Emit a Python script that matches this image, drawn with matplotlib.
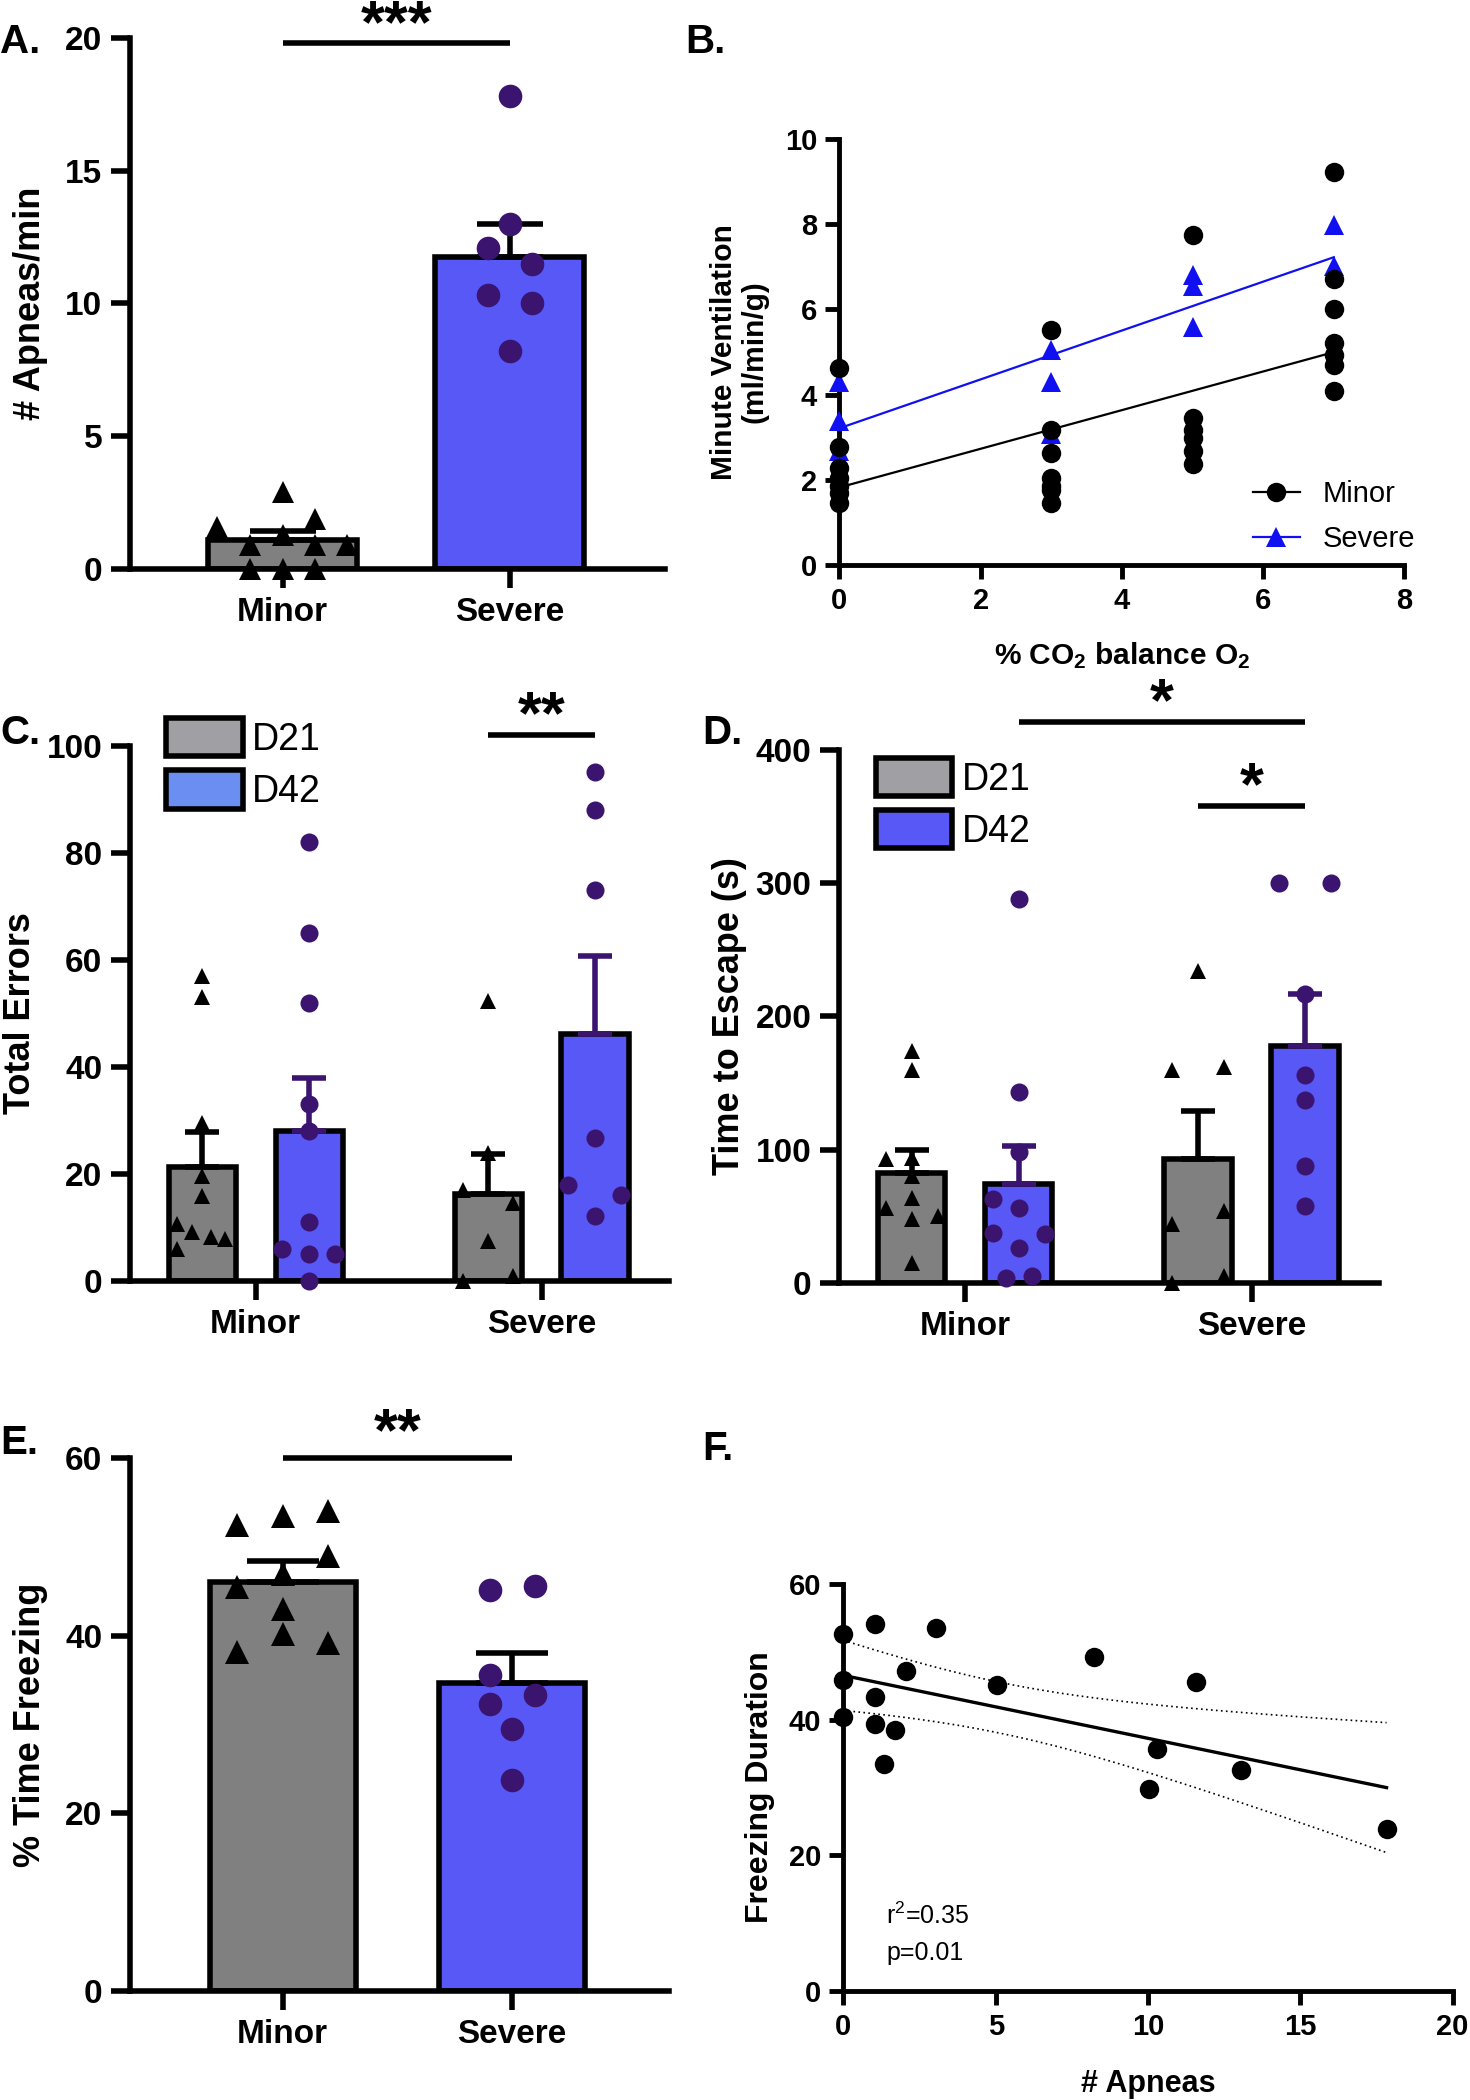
import numpy as np
import matplotlib
matplotlib.use("Agg")
import matplotlib.pyplot as plt
from matplotlib.patches import Patch
from matplotlib.lines import Line2D

plt.rcParams["font.family"] = ["Liberation Sans", "DejaVu Sans"]
plt.rcParams["mathtext.fontset"] = "custom"
plt.rcParams["mathtext.rm"] = "Liberation Sans"
plt.rcParams["mathtext.bf"] = "Liberation Sans:bold"
plt.rcParams["mathtext.default"] = "rm"

GRAY = "#808080"
BLUE = "#5858F7"
PURPLE = "#3B1470"
LEG_GRAY = "#A0A0A4"
LEG_BLUE_C = "#6B8EF2"
LINE_BLUE = "#1010F0"

groups = ["Minor", "Severe"]

# ---- A: apneas/min
a_minor = [2.9, 1.6, 1.9, 1.3, 0.9, 0.9, 0.9, 0.0, 0.0, 0.0]
a_severe = [17.8, 13.0, 12.1, 11.5, 10.3, 10.0, 8.2]
a_mean = [1.1, 11.75]
a_sem = [0.35, 1.25]

# ---- B: minute ventilation vs CO2
b_co2 = [0, 3, 5, 7]
b_minor = [
    [4.62, 2.78, 2.27, 2.04, 1.86, 1.68, 1.46],
    [5.53, 3.17, 2.63, 2.04, 1.86, 1.77, 1.46],
    [7.75, 3.44, 3.17, 2.99, 2.67, 2.37],
    [9.22, 6.72, 6.00, 5.21, 4.92, 4.69, 4.09],
]
b_severe = [
    [4.29, 3.39, 2.67],
    [5.05, 4.29, 3.07],
    [6.80, 6.55, 5.60],
    [7.98, 7.03],
]
b_minor_fit = (1.82, 0.454)    # intercept, slope
b_severe_fit = (3.21, 0.574)

# ---- C: total errors (D21 / D42)
c_d21_minor = [57, 53, 29.5, 19.7, 15.8, 10.6, 9.1, 8.3, 7.9, 5.9]
c_d42_minor = [82, 65, 52, 33, 28, 11, 6, 5, 5, 0]
c_d21_severe = [52.4, 24, 17, 14.6, 7.5, 0, 1]
c_d42_severe = [95, 88, 73, 26.8, 17.9, 16, 12.1]
c_d21_mean = [21.3, 16.3]
c_d21_sem = [6.5, 7.4]
c_d42_mean = [28.0, 46.1]
c_d42_sem = [9.9, 14.6]

# ---- D: time to escape (s)
d_d21_minor = [174, 160, 93, 94, 80, 63.5, 56, 50, 48, 15]
d_d42_minor = [288, 143, 98, 63, 56, 37.5, 37, 26, 4, 5]
d_d21_severe = [234, 160, 162, 54, 44, 5, 0]
d_d42_severe = [300, 300, 217, 156, 137, 88, 58]
d_d21_mean = [82.4, 93.0]
d_d21_sem = [17.6, 36.0]
d_d42_mean = [74.0, 177.5]
d_d42_sem = [29.0, 39.1]

# ---- E: % time freezing
e_minor = [52.5, 53.5, 54.0, 49.0, 47.0, 45.5, 43.0, 40.2, 39.2, 38.2]
e_severe = [45.1, 45.6, 35.6, 33.3, 32.3, 29.5, 23.7]
e_mean = [46.0, 34.7]
e_sem = [2.4, 3.3]

# ---- F: freezing vs apneas
f_apneas = [0, 0, 0, 1.02, 1.02, 1.02, 1.7, 1.34, 2.05, 3.04, 5.03, 8.23,
            11.56, 10.3, 10.02, 13.05, 17.83]
f_freeze = [52.6, 45.8, 40.4, 54.1, 43.3, 39.4, 38.4, 33.5, 47.1, 53.5, 45.1,
            49.2, 45.6, 35.7, 29.7, 32.5, 23.8]

# jitter of the dots inside each bar (layout only)
jit_a_minor = [0, -0.289, 0.14, 0, -0.144, 0.14, 0.284, -0.144, 0, 0.14]
jit_a_severe = [0, 0, -0.097, 0.097, -0.097, 0.097, 0]
jit_c_d21_minor = [0, 0, 0, 0, 0, -0.089, -0.037, 0.03, 0.08, -0.089]
jit_c_d42_minor = [0, 0, 0, 0, 0, 0, -0.094, 0, 0.089, 0]
jit_c_d21_severe = [0, 0, -0.089, 0.088, 0, -0.089, 0.088]
jit_c_d42_severe = [0, 0, 0, 0, -0.094, 0.091, 0]
jit_d_d21_minor = [0, 0, -0.091, 0, 0, 0, -0.091, 0.091, 0, 0]
jit_d_d42_minor = [0, 0, 0, -0.091, 0, -0.091, 0.091, 0, -0.045, 0.045]
jit_d_d21_severe = [0, -0.091, 0.091, 0.091, -0.091, 0.091, -0.091]
jit_d_d42_severe = [-0.091, 0.091, 0, 0, 0, 0, 0]
jit_e_minor = [-0.198, 0, 0.198, 0.198, 0, -0.198, 0, 0, 0.198, -0.198]
jit_e_severe = [-0.098, 0.098, -0.098, 0.098, -0.098, 0, 0]

LW = 4.0
TICK_FS = 24
LAB_FS = 26
STAR_FS = 44

fig = plt.figure(figsize=(14.7, 21), dpi=100)


def style_axes(ax, lw=LW, length=14, fs=TICK_FS):
    for s in ("top", "right"):
        ax.spines[s].set_visible(False)
    for s in ("left", "bottom"):
        ax.spines[s].set_linewidth(lw)
    ax.tick_params(width=lw, length=length, labelsize=fs, pad=6)
    for lab in ax.get_xticklabels() + ax.get_yticklabels():
        lab.set_fontweight("bold")


def bar(ax, x, mean, sem, pts, jit, fill, marker, mcol, ecol, width, ms, cap):
    ax.bar(x, mean, width, color=fill, edgecolor="black", linewidth=LW, zorder=2)
    ax.errorbar(x, mean, yerr=[[0], [sem]], fmt="none", ecolor=ecol,
                elinewidth=LW, capsize=cap, capthick=LW, zorder=3)
    ax.plot(np.array(jit) + x, pts, ls="none", marker=marker, color=mcol,
            ms=ms, mew=0, zorder=4, clip_on=False)


def sig(ax, x0, x1, y, stars, dy):
    ax.plot([x0, x1], [y, y], color="black", lw=LW, clip_on=False,
            solid_capstyle="butt")
    ax.text((x0 + x1) / 2, y + dy, stars, ha="center", va="baseline",
            fontsize=STAR_FS, fontweight="bold", clip_on=False)


def panel_label(x, y, s):
    fig.text(x, y, s, fontsize=29, fontweight="bold", ha="left", va="center")


def legend_boxes(ax, fills, anchor):
    ax.legend([Patch(facecolor=f, edgecolor="black", lw=LW) for f in fills],
              ["D21", "D42"], loc="upper left", bbox_to_anchor=anchor,
              frameon=False, fontsize=27, handlelength=2.05, handleheight=1.2,
              handletextpad=0.25, labelspacing=0.33, borderaxespad=0, borderpad=0)


# ---------------- A
ax = fig.add_axes([0.0884, 0.729, 0.364, 0.253])
bar(ax, 0, a_mean[0], a_sem[0], a_minor, jit_a_minor, GRAY, "^", "black",
    "black", 0.657, 16, 24)
bar(ax, 1, a_mean[1], a_sem[1], a_severe, jit_a_severe, BLUE, "o", PURPLE,
    "black", 0.657, 17, 24)
ax.set_xlim(-0.673, 1.684)
ax.set_ylim(0, 20)
ax.set_yticks([0, 5, 10, 15, 20])
ax.set_xticks([0, 1], groups)
ax.set_ylabel("# Apneas/min", fontsize=LAB_FS, fontweight="bold", labelpad=12)
style_axes(ax)
sig(ax, 0, 1, 19.8, "***", 0.05)
panel_label(0.0, 0.980, "A.")

# ---------------- B
ax = fig.add_axes([0.571, 0.731, 0.3844, 0.2027])
for x, ys in zip(b_co2, b_severe):
    ax.plot([x] * len(ys), ys, ls="none", marker="^", color=LINE_BLUE, ms=14,
            mew=0, clip_on=False, zorder=3)
for x, ys in zip(b_co2, b_minor):
    ax.plot([x] * len(ys), ys, ls="none", marker="o", color="black", ms=14,
            mew=0, clip_on=False, zorder=4)
xs = np.array([b_co2[0], b_co2[-1]])
ax.plot(xs, b_minor_fit[0] + b_minor_fit[1] * xs, color="black", lw=1.6, zorder=2)
ax.plot(xs, b_severe_fit[0] + b_severe_fit[1] * xs, color=LINE_BLUE, lw=1.6, zorder=2)
ax.set_xlim(0, 8)
ax.set_ylim(0, 10)
ax.set_xticks([0, 2, 4, 6, 8])
ax.set_yticks([0, 2, 4, 6, 8, 10])
ax.set_ylabel("Minute Ventilation\n(ml/min/g)", fontsize=21.5, fontweight="bold",
              labelpad=12, linespacing=1.1)
ax.set_xlabel(r"% $\mathbf{CO_2}$ balance $\mathbf{O_2}$", fontsize=21.5,
              fontweight="bold", labelpad=18)
style_axes(ax, lw=3.5, length=10, fs=21)
handles = [Line2D([], [], color="black", marker="o", ms=14, mew=0, lw=1.6),
           Line2D([], [], color=LINE_BLUE, marker="^", ms=14, mew=0, lw=1.6)]
ax.legend(handles, groups, loc="lower right", bbox_to_anchor=(1.04, 0.0),
          frameon=False, fontsize=21, handlelength=1.6, handletextpad=0.8,
          labelspacing=0.6, borderaxespad=0)
panel_label(0.466, 0.980, "B.")


def grouped(ax, d21_mean, d21_sem, d42_mean, d42_sem, pts21, pts42, jit21, jit42,
            ms_c, ms_t, cap):
    for i in range(2):
        bar(ax, i - 0.187, d21_mean[i], d21_sem[i], pts21[i], jit21[i], GRAY,
            "^", "black", "black", 0.235, ms_t, cap)
        bar(ax, i + 0.187, d42_mean[i], d42_sem[i], pts42[i], jit42[i], BLUE,
            "o", PURPLE, PURPLE, 0.235, ms_c, cap)
    ax.set_xlim(-0.44, 1.445)
    ax.set_xticks([0, 1], groups)


# ---------------- C
ax = fig.add_axes([0.0884, 0.390, 0.3666, 0.2549])
grouped(ax, c_d21_mean, c_d21_sem, c_d42_mean, c_d42_sem,
        [c_d21_minor, c_d21_severe], [c_d42_minor, c_d42_severe],
        [jit_c_d21_minor, jit_c_d21_severe], [jit_c_d42_minor, jit_c_d42_severe],
        13, 12, 12)
ax.set_ylim(0, 100)
ax.set_yticks([0, 20, 40, 60, 80, 100])
ax.set_ylabel("Total Errors", fontsize=LAB_FS, fontweight="bold", labelpad=6)
style_axes(ax)
sig(ax, 1 - 0.187, 1 + 0.187, 102, "**", 0.3)
legend_boxes(ax, [LEG_GRAY, LEG_BLUE_C], (0.067, 1.052))
panel_label(0.0, 0.651, "C.")

# ---------------- D
ax = fig.add_axes([0.571, 0.389, 0.367, 0.254])
grouped(ax, d_d21_mean, d_d21_sem, d_d42_mean, d_d42_sem,
        [d_d21_minor, d_d21_severe], [d_d42_minor, d_d42_severe],
        [jit_d_d21_minor, jit_d_d21_severe], [jit_d_d42_minor, jit_d_d42_severe],
        13, 12, 12)
ax.set_ylim(0, 400)
ax.set_yticks([0, 100, 200, 300, 400])
ax.set_ylabel("Time to Escape (s)", fontsize=LAB_FS, fontweight="bold", labelpad=6)
style_axes(ax)
sig(ax, 0.187, 1.187, 421, "*", 1.5)
sig(ax, 1 - 0.187, 1 + 0.187, 358, "*", 1.0)
legend_boxes(ax, [LEG_GRAY, BLUE], (0.067, 0.985))
panel_label(0.478, 0.651, "D.")

# ---------------- E
ax = fig.add_axes([0.0884, 0.0519, 0.3666, 0.2538])
bar(ax, 0, e_mean[0], e_sem[0], e_minor, jit_e_minor, GRAY, "^", "black",
    "black", 0.636, 17, 26)
bar(ax, 1, e_mean[1], e_sem[1], e_severe, jit_e_severe, BLUE, "o", PURPLE,
    "black", 0.636, 17, 26)
ax.set_xlim(-0.665, 1.683)
ax.set_ylim(0, 60)
ax.set_yticks([0, 20, 40, 60])
ax.set_xticks([0, 1], groups)
ax.set_ylabel("% Time Freezing", fontsize=LAB_FS, fontweight="bold", labelpad=12)
style_axes(ax)
sig(ax, 0, 1, 60, "**", 0.9)
panel_label(0.0, 0.313, "E.")

# ---------------- F
ax = fig.add_axes([0.5738, 0.0519, 0.4144, 0.1939])
fx = np.array(f_apneas)
fy = np.array(f_freeze)
slope, icept = np.polyfit(fx, fy, 1)
n = len(fx)
resid = fy - (icept + slope * fx)
s = np.sqrt(np.sum(resid ** 2) / (n - 2))
sxx = np.sum((fx - fx.mean()) ** 2)
xs = np.linspace(0, fx.max(), 100)
fit = icept + slope * xs
half = 2.131 * s * np.sqrt(1 / n + (xs - fx.mean()) ** 2 / sxx)
ax.plot(xs, fit, color="black", lw=2.4, zorder=2)
ax.plot(xs, fit + half, color="black", lw=1.2, ls=(0, (1, 2)), zorder=2)
ax.plot(xs, fit - half, color="black", lw=1.2, ls=(0, (1, 2)), zorder=2)
ax.plot(fx, fy, ls="none", marker="o", color="black", ms=14, mew=0,
        clip_on=False, zorder=3)
ax.set_xlim(0, 20)
ax.set_ylim(0, 60)
ax.set_xticks([0, 5, 10, 15, 20])
ax.set_yticks([0, 20, 40, 60])
ax.set_xlabel("# Apneas", fontsize=22, fontweight="bold", labelpad=20)
ax.set_ylabel("Freezing Duration", fontsize=23, fontweight="bold", labelpad=10)
style_axes(ax, lw=3.5, length=10, fs=21)
ax.text(1.4, 9.9, "r$^2$=0.35", fontsize=18)
ax.text(1.4, 4.6, "p=0.01", fontsize=18)
panel_label(0.478, 0.310, "F.")

fig.savefig("out.png", dpi=100)
